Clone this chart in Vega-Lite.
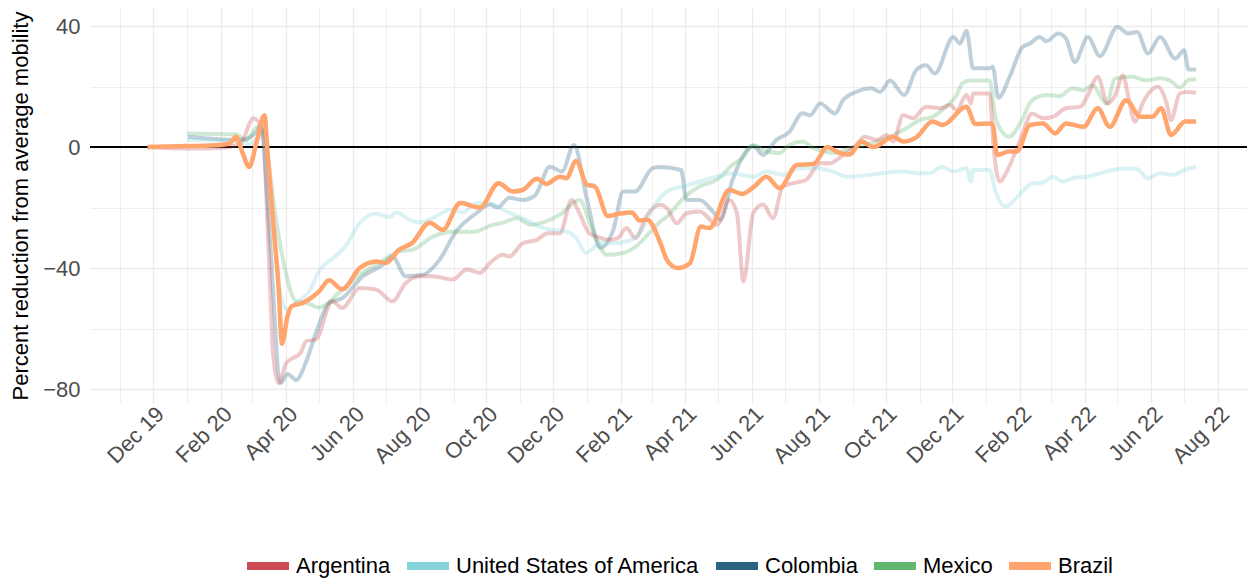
{
"$schema": "https://vega.github.io/schema/vega-lite/v6.json",
"width": 1157, "height": 395,
"autosize": {"type": "none"},
"padding": {"left": 90, "top": 8, "right": 5, "bottom": 177},
"background": "white",
"config": {"view": {"stroke": null}, "font": "Liberation Sans"},
"datasets": {
"mob": [
{"country":"Brazil","date":"2019-11-26","value":0},
{"country":"Brazil","date":"2020-01-01","value":0.3},
{"country":"Brazil","date":"2020-02-01","value":0.7},
{"country":"Brazil","date":"2020-02-09","value":1.2},
{"country":"Brazil","date":"2020-02-15","value":3.4},
{"country":"Brazil","date":"2020-02-21","value":-2},
{"country":"Brazil","date":"2020-02-27","value":-6.6},
{"country":"Brazil","date":"2020-03-05","value":2},
{"country":"Brazil","date":"2020-03-12","value":10.5},
{"country":"Brazil","date":"2020-03-15","value":-3},
{"country":"Brazil","date":"2020-03-20","value":-25},
{"country":"Brazil","date":"2020-03-25","value":-47},
{"country":"Brazil","date":"2020-03-28","value":-65},
{"country":"Brazil","date":"2020-04-02","value":-56},
{"country":"Brazil","date":"2020-04-06","value":-52.6},
{"country":"Brazil","date":"2020-04-16","value":-51.5},
{"country":"Brazil","date":"2020-04-23","value":-50},
{"country":"Brazil","date":"2020-05-01","value":-47.7},
{"country":"Brazil","date":"2020-05-10","value":-44},
{"country":"Brazil","date":"2020-05-22","value":-47},
{"country":"Brazil","date":"2020-06-07","value":-40},
{"country":"Brazil","date":"2020-06-22","value":-37.8},
{"country":"Brazil","date":"2020-07-01","value":-38.3},
{"country":"Brazil","date":"2020-07-13","value":-34},
{"country":"Brazil","date":"2020-07-25","value":-31.7},
{"country":"Brazil","date":"2020-08-10","value":-25},
{"country":"Brazil","date":"2020-08-22","value":-27.4},
{"country":"Brazil","date":"2020-09-07","value":-18.5},
{"country":"Brazil","date":"2020-09-25","value":-20},
{"country":"Brazil","date":"2020-10-12","value":-12},
{"country":"Brazil","date":"2020-10-25","value":-14.7},
{"country":"Brazil","date":"2020-11-03","value":-14.2},
{"country":"Brazil","date":"2020-11-16","value":-10.5},
{"country":"Brazil","date":"2020-11-25","value":-12.2},
{"country":"Brazil","date":"2020-12-07","value":-9.8},
{"country":"Brazil","date":"2020-12-13","value":-10.3},
{"country":"Brazil","date":"2020-12-22","value":-4.6},
{"country":"Brazil","date":"2021-01-01","value":-12.5},
{"country":"Brazil","date":"2021-01-08","value":-13},
{"country":"Brazil","date":"2021-01-20","value":-22.8},
{"country":"Brazil","date":"2021-01-31","value":-22},
{"country":"Brazil","date":"2021-02-11","value":-21.6},
{"country":"Brazil","date":"2021-02-18","value":-24.3},
{"country":"Brazil","date":"2021-02-25","value":-24},
{"country":"Brazil","date":"2021-03-09","value":-31.7},
{"country":"Brazil","date":"2021-03-15","value":-37.3},
{"country":"Brazil","date":"2021-03-25","value":-40},
{"country":"Brazil","date":"2021-04-05","value":-38.4},
{"country":"Brazil","date":"2021-04-15","value":-26.3},
{"country":"Brazil","date":"2021-04-23","value":-26.8},
{"country":"Brazil","date":"2021-05-11","value":-14.2},
{"country":"Brazil","date":"2021-05-23","value":-15.5},
{"country":"Brazil","date":"2021-06-03","value":-13},
{"country":"Brazil","date":"2021-06-14","value":-9.8},
{"country":"Brazil","date":"2021-06-26","value":-13.6},
{"country":"Brazil","date":"2021-07-12","value":-5.9},
{"country":"Brazil","date":"2021-07-27","value":-5.6},
{"country":"Brazil","date":"2021-08-09","value":0},
{"country":"Brazil","date":"2021-08-17","value":-1.5},
{"country":"Brazil","date":"2021-08-29","value":-2.5},
{"country":"Brazil","date":"2021-09-09","value":1.8},
{"country":"Brazil","date":"2021-09-20","value":0},
{"country":"Brazil","date":"2021-10-08","value":3.4},
{"country":"Brazil","date":"2021-10-17","value":1.8},
{"country":"Brazil","date":"2021-10-29","value":3.2},
{"country":"Brazil","date":"2021-11-13","value":8.4},
{"country":"Brazil","date":"2021-11-22","value":7.3},
{"country":"Brazil","date":"2021-12-14","value":13.3},
{"country":"Brazil","date":"2021-12-22","value":7.6},
{"country":"Brazil","date":"2022-01-04","value":7.8},
{"country":"Brazil","date":"2022-01-07","value":7.5},
{"country":"Brazil","date":"2022-01-11","value":-2.6},
{"country":"Brazil","date":"2022-01-22","value":-1.5},
{"country":"Brazil","date":"2022-01-29","value":-1.5},
{"country":"Brazil","date":"2022-02-10","value":7.3},
{"country":"Brazil","date":"2022-02-22","value":7.8},
{"country":"Brazil","date":"2022-03-05","value":4.5},
{"country":"Brazil","date":"2022-03-15","value":7.8},
{"country":"Brazil","date":"2022-03-31","value":6.7},
{"country":"Brazil","date":"2022-04-13","value":12.8},
{"country":"Brazil","date":"2022-04-24","value":6.7},
{"country":"Brazil","date":"2022-05-09","value":15.5},
{"country":"Brazil","date":"2022-05-22","value":10},
{"country":"Brazil","date":"2022-06-02","value":10},
{"country":"Brazil","date":"2022-06-10","value":12.8},
{"country":"Brazil","date":"2022-06-19","value":4},
{"country":"Brazil","date":"2022-07-02","value":8.4},
{"country":"Brazil","date":"2022-07-12","value":8.4},
{"country":"Colombia","date":"2020-01-02","value":3.4},
{"country":"Colombia","date":"2020-02-19","value":2.3},
{"country":"Colombia","date":"2020-03-05","value":5},
{"country":"Colombia","date":"2020-03-09","value":7.8},
{"country":"Colombia","date":"2020-03-16","value":-25},
{"country":"Colombia","date":"2020-03-27","value":-78},
{"country":"Colombia","date":"2020-04-02","value":-75},
{"country":"Colombia","date":"2020-04-10","value":-77},
{"country":"Colombia","date":"2020-04-19","value":-71},
{"country":"Colombia","date":"2020-04-28","value":-61.5},
{"country":"Colombia","date":"2020-05-10","value":-51.5},
{"country":"Colombia","date":"2020-05-22","value":-50},
{"country":"Colombia","date":"2020-06-10","value":-42.7},
{"country":"Colombia","date":"2020-06-28","value":-39},
{"country":"Colombia","date":"2020-07-07","value":-36.2},
{"country":"Colombia","date":"2020-07-19","value":-42.7},
{"country":"Colombia","date":"2020-08-04","value":-42.2},
{"country":"Colombia","date":"2020-08-19","value":-37.3},
{"country":"Colombia","date":"2020-09-03","value":-28},
{"country":"Colombia","date":"2020-09-22","value":-21.8},
{"country":"Colombia","date":"2020-10-04","value":-19},
{"country":"Colombia","date":"2020-10-11","value":-20},
{"country":"Colombia","date":"2020-10-22","value":-16.8},
{"country":"Colombia","date":"2020-11-03","value":-17.5},
{"country":"Colombia","date":"2020-11-14","value":-16.2},
{"country":"Colombia","date":"2020-11-28","value":-6.5},
{"country":"Colombia","date":"2020-12-09","value":-8.1},
{"country":"Colombia","date":"2020-12-20","value":0.7},
{"country":"Colombia","date":"2021-01-01","value":-17.5},
{"country":"Colombia","date":"2021-01-13","value":-33.3},
{"country":"Colombia","date":"2021-01-25","value":-27.4},
{"country":"Colombia","date":"2021-02-03","value":-14.7},
{"country":"Colombia","date":"2021-02-14","value":-14.7},
{"country":"Colombia","date":"2021-03-02","value":-7},
{"country":"Colombia","date":"2021-03-09","value":-6.6},
{"country":"Colombia","date":"2021-03-28","value":-7.6},
{"country":"Colombia","date":"2021-04-02","value":-17.5},
{"country":"Colombia","date":"2021-04-14","value":-17.5},
{"country":"Colombia","date":"2021-04-26","value":-21.3},
{"country":"Colombia","date":"2021-05-03","value":-24},
{"country":"Colombia","date":"2021-05-14","value":-10.9},
{"country":"Colombia","date":"2021-06-02","value":0.3},
{"country":"Colombia","date":"2021-06-11","value":-2.6},
{"country":"Colombia","date":"2021-06-23","value":2.3},
{"country":"Colombia","date":"2021-07-05","value":5},
{"country":"Colombia","date":"2021-07-17","value":11.2},
{"country":"Colombia","date":"2021-07-24","value":10.5},
{"country":"Colombia","date":"2021-08-02","value":14.4},
{"country":"Colombia","date":"2021-08-16","value":11.1},
{"country":"Colombia","date":"2021-08-23","value":15.5},
{"country":"Colombia","date":"2021-09-04","value":18.2},
{"country":"Colombia","date":"2021-09-18","value":19.4},
{"country":"Colombia","date":"2021-09-26","value":18.2},
{"country":"Colombia","date":"2021-10-05","value":22},
{"country":"Colombia","date":"2021-10-18","value":17.2},
{"country":"Colombia","date":"2021-10-29","value":25.4},
{"country":"Colombia","date":"2021-11-07","value":27},
{"country":"Colombia","date":"2021-11-15","value":24.3},
{"country":"Colombia","date":"2021-12-02","value":36.4},
{"country":"Colombia","date":"2021-12-08","value":34.2},
{"country":"Colombia","date":"2021-12-14","value":38.4},
{"country":"Colombia","date":"2021-12-20","value":26},
{"country":"Colombia","date":"2022-01-04","value":26},
{"country":"Colombia","date":"2022-01-07","value":26.5},
{"country":"Colombia","date":"2022-01-12","value":16.3},
{"country":"Colombia","date":"2022-01-23","value":23.7},
{"country":"Colombia","date":"2022-02-03","value":33},
{"country":"Colombia","date":"2022-02-10","value":34.2},
{"country":"Colombia","date":"2022-02-19","value":36.4},
{"country":"Colombia","date":"2022-02-25","value":35},
{"country":"Colombia","date":"2022-03-08","value":37.5},
{"country":"Colombia","date":"2022-03-15","value":35.8},
{"country":"Colombia","date":"2022-03-23","value":28.1},
{"country":"Colombia","date":"2022-04-04","value":36.4},
{"country":"Colombia","date":"2022-04-15","value":30},
{"country":"Colombia","date":"2022-05-01","value":39.7},
{"country":"Colombia","date":"2022-05-11","value":37.5},
{"country":"Colombia","date":"2022-05-19","value":38},
{"country":"Colombia","date":"2022-05-29","value":30.9},
{"country":"Colombia","date":"2022-06-09","value":36.4},
{"country":"Colombia","date":"2022-06-23","value":29.2},
{"country":"Colombia","date":"2022-07-01","value":32},
{"country":"Colombia","date":"2022-07-05","value":25.6},
{"country":"Colombia","date":"2022-07-12","value":25.6},
{"country":"Mexico","date":"2020-01-01","value":4.5},
{"country":"Mexico","date":"2020-02-15","value":4.2},
{"country":"Mexico","date":"2020-02-24","value":2.3},
{"country":"Mexico","date":"2020-03-06","value":6.7},
{"country":"Mexico","date":"2020-03-13","value":2.3},
{"country":"Mexico","date":"2020-03-20","value":-17.5},
{"country":"Mexico","date":"2020-03-29","value":-37.3},
{"country":"Mexico","date":"2020-04-10","value":-51},
{"country":"Mexico","date":"2020-04-19","value":-51.5},
{"country":"Mexico","date":"2020-05-01","value":-53},
{"country":"Mexico","date":"2020-05-19","value":-48.2},
{"country":"Mexico","date":"2020-06-07","value":-42.2},
{"country":"Mexico","date":"2020-06-25","value":-38.3},
{"country":"Mexico","date":"2020-07-13","value":-34.5},
{"country":"Mexico","date":"2020-07-25","value":-34},
{"country":"Mexico","date":"2020-08-13","value":-29.6},
{"country":"Mexico","date":"2020-08-31","value":-28},
{"country":"Mexico","date":"2020-09-19","value":-28},
{"country":"Mexico","date":"2020-10-07","value":-25.7},
{"country":"Mexico","date":"2020-10-16","value":-25},
{"country":"Mexico","date":"2020-10-29","value":-23.5},
{"country":"Mexico","date":"2020-11-10","value":-25.7},
{"country":"Mexico","date":"2020-11-22","value":-24.9},
{"country":"Mexico","date":"2020-12-07","value":-22.4},
{"country":"Mexico","date":"2020-12-25","value":-17.5},
{"country":"Mexico","date":"2021-01-06","value":-27.4},
{"country":"Mexico","date":"2021-01-19","value":-35.6},
{"country":"Mexico","date":"2021-02-03","value":-35},
{"country":"Mexico","date":"2021-02-15","value":-32.8},
{"country":"Mexico","date":"2021-02-27","value":-28.4},
{"country":"Mexico","date":"2021-03-09","value":-24.6},
{"country":"Mexico","date":"2021-03-15","value":-23},
{"country":"Mexico","date":"2021-03-30","value":-16.9},
{"country":"Mexico","date":"2021-04-14","value":-13},
{"country":"Mexico","date":"2021-04-30","value":-10.8},
{"country":"Mexico","date":"2021-05-14","value":-5.9},
{"country":"Mexico","date":"2021-05-23","value":-3.7},
{"country":"Mexico","date":"2021-06-02","value":0.7},
{"country":"Mexico","date":"2021-06-14","value":-1.5},
{"country":"Mexico","date":"2021-06-26","value":-2},
{"country":"Mexico","date":"2021-07-05","value":0.7},
{"country":"Mexico","date":"2021-07-17","value":1.8},
{"country":"Mexico","date":"2021-07-27","value":-0.4},
{"country":"Mexico","date":"2021-08-06","value":-1.5},
{"country":"Mexico","date":"2021-08-17","value":-2},
{"country":"Mexico","date":"2021-08-29","value":-0.4},
{"country":"Mexico","date":"2021-09-17","value":1.2},
{"country":"Mexico","date":"2021-10-02","value":2.9},
{"country":"Mexico","date":"2021-10-20","value":6.2},
{"country":"Mexico","date":"2021-11-01","value":8.9},
{"country":"Mexico","date":"2021-11-13","value":10},
{"country":"Mexico","date":"2021-11-25","value":13.3},
{"country":"Mexico","date":"2021-12-05","value":17.2},
{"country":"Mexico","date":"2021-12-10","value":21},
{"country":"Mexico","date":"2021-12-17","value":22},
{"country":"Mexico","date":"2022-01-04","value":22},
{"country":"Mexico","date":"2022-01-10","value":8.9},
{"country":"Mexico","date":"2022-01-22","value":3.4},
{"country":"Mexico","date":"2022-02-01","value":7.8},
{"country":"Mexico","date":"2022-02-12","value":15.5},
{"country":"Mexico","date":"2022-02-25","value":17.2},
{"country":"Mexico","date":"2022-03-09","value":16.8},
{"country":"Mexico","date":"2022-03-21","value":19.4},
{"country":"Mexico","date":"2022-03-31","value":18.8},
{"country":"Mexico","date":"2022-04-08","value":20.4},
{"country":"Mexico","date":"2022-04-21","value":14.4},
{"country":"Mexico","date":"2022-04-29","value":22.7},
{"country":"Mexico","date":"2022-05-15","value":23.2},
{"country":"Mexico","date":"2022-05-27","value":22},
{"country":"Mexico","date":"2022-06-09","value":22.7},
{"country":"Mexico","date":"2022-06-18","value":22},
{"country":"Mexico","date":"2022-06-27","value":19.7},
{"country":"Mexico","date":"2022-07-06","value":22.3},
{"country":"Mexico","date":"2022-07-12","value":22.3},
{"country":"Argentina","date":"2019-11-26","value":0},
{"country":"Argentina","date":"2020-01-01","value":-0.5},
{"country":"Argentina","date":"2020-02-01","value":-0.3},
{"country":"Argentina","date":"2020-02-19","value":1.2},
{"country":"Argentina","date":"2020-03-02","value":9.5},
{"country":"Argentina","date":"2020-03-10","value":5.6},
{"country":"Argentina","date":"2020-03-16","value":-36},
{"country":"Argentina","date":"2020-03-20","value":-69},
{"country":"Argentina","date":"2020-03-25","value":-78},
{"country":"Argentina","date":"2020-04-01","value":-71.3},
{"country":"Argentina","date":"2020-04-14","value":-68},
{"country":"Argentina","date":"2020-04-19","value":-64.2},
{"country":"Argentina","date":"2020-04-28","value":-63.6},
{"country":"Argentina","date":"2020-05-13","value":-51},
{"country":"Argentina","date":"2020-05-22","value":-53.2},
{"country":"Argentina","date":"2020-06-07","value":-46.6},
{"country":"Argentina","date":"2020-06-22","value":-47.1},
{"country":"Argentina","date":"2020-07-07","value":-51},
{"country":"Argentina","date":"2020-07-19","value":-45},
{"country":"Argentina","date":"2020-08-01","value":-42.7},
{"country":"Argentina","date":"2020-08-13","value":-42.7},
{"country":"Argentina","date":"2020-08-31","value":-43.8},
{"country":"Argentina","date":"2020-09-13","value":-40.5},
{"country":"Argentina","date":"2020-09-25","value":-41.6},
{"country":"Argentina","date":"2020-10-04","value":-38.4},
{"country":"Argentina","date":"2020-10-16","value":-35.6},
{"country":"Argentina","date":"2020-10-22","value":-36.2},
{"country":"Argentina","date":"2020-11-03","value":-31.8},
{"country":"Argentina","date":"2020-11-16","value":-30.7},
{"country":"Argentina","date":"2020-11-26","value":-28.5},
{"country":"Argentina","date":"2020-12-07","value":-28.5},
{"country":"Argentina","date":"2020-12-18","value":-17.5},
{"country":"Argentina","date":"2020-12-25","value":-21.9},
{"country":"Argentina","date":"2021-01-03","value":-28.5},
{"country":"Argentina","date":"2021-01-10","value":-29.6},
{"country":"Argentina","date":"2021-01-21","value":-30.7},
{"country":"Argentina","date":"2021-01-29","value":-30.1},
{"country":"Argentina","date":"2021-02-06","value":-26.8},
{"country":"Argentina","date":"2021-02-14","value":-30.1},
{"country":"Argentina","date":"2021-02-25","value":-22.4},
{"country":"Argentina","date":"2021-03-09","value":-19.1},
{"country":"Argentina","date":"2021-03-15","value":-20.2},
{"country":"Argentina","date":"2021-03-24","value":-25.2},
{"country":"Argentina","date":"2021-04-02","value":-21.9},
{"country":"Argentina","date":"2021-04-14","value":-21.3},
{"country":"Argentina","date":"2021-04-30","value":-25.7},
{"country":"Argentina","date":"2021-05-11","value":-17.5},
{"country":"Argentina","date":"2021-05-18","value":-21.8},
{"country":"Argentina","date":"2021-05-24","value":-44.4},
{"country":"Argentina","date":"2021-06-02","value":-21.8},
{"country":"Argentina","date":"2021-06-11","value":-19},
{"country":"Argentina","date":"2021-06-20","value":-23.5},
{"country":"Argentina","date":"2021-06-29","value":-13},
{"country":"Argentina","date":"2021-07-08","value":-12},
{"country":"Argentina","date":"2021-07-20","value":-10.9},
{"country":"Argentina","date":"2021-08-02","value":-5.4},
{"country":"Argentina","date":"2021-08-11","value":-5.4},
{"country":"Argentina","date":"2021-08-21","value":-3.2},
{"country":"Argentina","date":"2021-09-03","value":0.2},
{"country":"Argentina","date":"2021-09-12","value":3.4},
{"country":"Argentina","date":"2021-09-23","value":2.3},
{"country":"Argentina","date":"2021-10-02","value":4},
{"country":"Argentina","date":"2021-10-08","value":1.8},
{"country":"Argentina","date":"2021-10-17","value":10.5},
{"country":"Argentina","date":"2021-10-26","value":9.5},
{"country":"Argentina","date":"2021-11-07","value":13.3},
{"country":"Argentina","date":"2021-11-20","value":12.8},
{"country":"Argentina","date":"2021-11-29","value":13.9},
{"country":"Argentina","date":"2021-12-05","value":12.2},
{"country":"Argentina","date":"2021-12-14","value":17.2},
{"country":"Argentina","date":"2021-12-18","value":14.4},
{"country":"Argentina","date":"2021-12-20","value":17.7},
{"country":"Argentina","date":"2022-01-04","value":17.7},
{"country":"Argentina","date":"2022-01-08","value":-0.9},
{"country":"Argentina","date":"2022-01-13","value":-11.4},
{"country":"Argentina","date":"2022-01-22","value":-6.5},
{"country":"Argentina","date":"2022-02-01","value":2.3},
{"country":"Argentina","date":"2022-02-12","value":11.1},
{"country":"Argentina","date":"2022-02-22","value":9.5},
{"country":"Argentina","date":"2022-03-03","value":10},
{"country":"Argentina","date":"2022-03-15","value":12.8},
{"country":"Argentina","date":"2022-03-28","value":13.3},
{"country":"Argentina","date":"2022-04-04","value":17.2},
{"country":"Argentina","date":"2022-04-13","value":23.2},
{"country":"Argentina","date":"2022-04-22","value":14.4},
{"country":"Argentina","date":"2022-04-29","value":17.2},
{"country":"Argentina","date":"2022-05-06","value":23.7},
{"country":"Argentina","date":"2022-05-11","value":16.6},
{"country":"Argentina","date":"2022-05-17","value":8.4},
{"country":"Argentina","date":"2022-05-24","value":14.4},
{"country":"Argentina","date":"2022-06-07","value":19.9},
{"country":"Argentina","date":"2022-06-15","value":14.4},
{"country":"Argentina","date":"2022-06-19","value":8.9},
{"country":"Argentina","date":"2022-06-27","value":17.7},
{"country":"Argentina","date":"2022-07-03","value":18.2},
{"country":"Argentina","date":"2022-07-12","value":17.9},
{"country":"United States of America","date":"2020-01-01","value":2.3},
{"country":"United States of America","date":"2020-02-15","value":2},
{"country":"United States of America","date":"2020-02-27","value":1},
{"country":"United States of America","date":"2020-03-09","value":3.4},
{"country":"United States of America","date":"2020-03-19","value":-25},
{"country":"United States of America","date":"2020-03-27","value":-49.4},
{"country":"United States of America","date":"2020-04-01","value":-53.7},
{"country":"United States of America","date":"2020-04-10","value":-51.5},
{"country":"United States of America","date":"2020-04-23","value":-47},
{"country":"United States of America","date":"2020-05-01","value":-41},
{"country":"United States of America","date":"2020-05-16","value":-36},
{"country":"United States of America","date":"2020-05-25","value":-32.8},
{"country":"United States of America","date":"2020-06-07","value":-25.2},
{"country":"United States of America","date":"2020-06-22","value":-22},
{"country":"United States of America","date":"2020-07-04","value":-23.2},
{"country":"United States of America","date":"2020-07-11","value":-21.6},
{"country":"United States of America","date":"2020-07-22","value":-24},
{"country":"United States of America","date":"2020-08-01","value":-24.9},
{"country":"United States of America","date":"2020-08-13","value":-23.5},
{"country":"United States of America","date":"2020-08-28","value":-20.8},
{"country":"United States of America","date":"2020-09-09","value":-21.6},
{"country":"United States of America","date":"2020-09-22","value":-18.6},
{"country":"United States of America","date":"2020-10-04","value":-18.6},
{"country":"United States of America","date":"2020-10-19","value":-21.3},
{"country":"United States of America","date":"2020-11-03","value":-23.5},
{"country":"United States of America","date":"2020-11-18","value":-26.3},
{"country":"United States of America","date":"2020-11-30","value":-27.4},
{"country":"United States of America","date":"2020-12-13","value":-27.9},
{"country":"United States of America","date":"2020-12-22","value":-30.1},
{"country":"United States of America","date":"2020-12-31","value":-35},
{"country":"United States of America","date":"2021-01-13","value":-31.8},
{"country":"United States of America","date":"2021-01-25","value":-31.8},
{"country":"United States of America","date":"2021-02-06","value":-31.2},
{"country":"United States of America","date":"2021-02-18","value":-28.5},
{"country":"United States of America","date":"2021-03-02","value":-20.2},
{"country":"United States of America","date":"2021-03-15","value":-14.7},
{"country":"United States of America","date":"2021-03-30","value":-13},
{"country":"United States of America","date":"2021-04-14","value":-11.4},
{"country":"United States of America","date":"2021-04-30","value":-9.8},
{"country":"United States of America","date":"2021-05-14","value":-8.7},
{"country":"United States of America","date":"2021-06-02","value":-9.8},
{"country":"United States of America","date":"2021-06-14","value":-8.1},
{"country":"United States of America","date":"2021-06-29","value":-9.2},
{"country":"United States of America","date":"2021-07-14","value":-7},
{"country":"United States of America","date":"2021-07-30","value":-7},
{"country":"United States of America","date":"2021-08-14","value":-8.1},
{"country":"United States of America","date":"2021-08-26","value":-9.8},
{"country":"United States of America","date":"2021-09-17","value":-9.2},
{"country":"United States of America","date":"2021-10-02","value":-8.4},
{"country":"United States of America","date":"2021-10-17","value":-8.1},
{"country":"United States of America","date":"2021-11-01","value":-8.7},
{"country":"United States of America","date":"2021-11-10","value":-8.7},
{"country":"United States of America","date":"2021-11-22","value":-6.5},
{"country":"United States of America","date":"2021-12-02","value":-8.1},
{"country":"United States of America","date":"2021-12-14","value":-7},
{"country":"United States of America","date":"2021-12-18","value":-11.4},
{"country":"United States of America","date":"2021-12-20","value":-7.6},
{"country":"United States of America","date":"2022-01-04","value":-7.6},
{"country":"United States of America","date":"2022-01-10","value":-15.3},
{"country":"United States of America","date":"2022-01-19","value":-19.7},
{"country":"United States of America","date":"2022-01-22","value":-19.1},
{"country":"United States of America","date":"2022-02-03","value":-14.7},
{"country":"United States of America","date":"2022-02-12","value":-12},
{"country":"United States of America","date":"2022-02-22","value":-11.7},
{"country":"United States of America","date":"2022-03-03","value":-9.8},
{"country":"United States of America","date":"2022-03-12","value":-11.4},
{"country":"United States of America","date":"2022-03-21","value":-10.3},
{"country":"United States of America","date":"2022-04-03","value":-9.8},
{"country":"United States of America","date":"2022-04-15","value":-8.7},
{"country":"United States of America","date":"2022-04-27","value":-7.6},
{"country":"United States of America","date":"2022-05-09","value":-7},
{"country":"United States of America","date":"2022-05-19","value":-7.3},
{"country":"United States of America","date":"2022-05-29","value":-10.3},
{"country":"United States of America","date":"2022-06-09","value":-8.7},
{"country":"United States of America","date":"2022-06-21","value":-9.2},
{"country":"United States of America","date":"2022-07-01","value":-7.6},
{"country":"United States of America","date":"2022-07-12","value":-6.5}
],
"zero": [{"level": 0}]
},
"layer": [
{
"data": {"name": "zero"},
"mark": {"type": "rule", "color": "black", "strokeWidth": 2},
"encoding": {"y": {"field": "level", "type": "quantitative"}}
},
{
"data": {"name": "mob"},
"transform": [{"filter": "datum.country !== 'Brazil'"}],
"mark": {"type": "line", "strokeWidth": 4, "opacity": 0.3, "interpolate": "monotone"},
"encoding": {
"x": {"field": "date", "type": "temporal",
"scale": {"type": "utc", "domain": [{"year": 2019, "month": 10, "date": 4, "hours": 10, "utc": true}, {"year": 2022, "month": 8, "date": 27, "hours": 12, "utc": true}]},
"axis": {"title": null, "tickCount": {"interval": "month", "step": 1},
"labelExpr": "utcmonth(datum.value) % 2 == 1 ? utcFormat(datum.value, '%b %y') : ''",
"labelAngle": -45, "labelAlign": "right", "labelBaseline": "top",
"labelFontSize": 22, "labelColor": "#4D4D4D", "labelPadding": 0,
"labelOverlap": false, "labelFlush": false, "labelBound": false,
"ticks": false, "domain": false, "grid": true, "gridColor": "#EBEBEB",
"gridWidth": {"condition": {"test": "utcmonth(datum.value) % 2 == 1", "value": 1.3}, "value": 0.8}}},
"y": {"field": "value", "type": "quantitative",
"scale": {"domain": [-84.6, 45.95], "nice": false, "zero": false},
"axis": {"title": "Percent reduction from average mobility", "titleFontSize": 22, "titleFontWeight": "normal", "titleColor": "black", "titlePadding": 10,
"values": [-80, -60, -40, -20, 0, 20, 40],
"labelExpr": "datum.value % 40 == 0 ? datum.label : ''",
"labelFontSize": 22, "labelColor": "#4D4D4D", "labelPadding": 10,
"ticks": false, "domain": false, "grid": true, "gridColor": "#EBEBEB",
"gridWidth": {"condition": {"test": "datum.value % 40 == 0", "value": 1.3}, "value": 0.8}}},
"color": {"field": "country", "type": "nominal",
"scale": {"domain": ["Argentina", "United States of America", "Colombia", "Mexico", "Brazil"], "range": ["#C94A50", "#84D3DC", "#2C6383", "#62B670", "#FFA56D"]},
"legend": {"orient": "none", "legendX": 153, "legendY": 533, "direction": "horizontal", "title": null,
"symbolType": "stroke", "symbolStrokeWidth": 8, "symbolSize": 1764, "symbolOpacity": 1,
"labelFontSize": 22, "labelColor": "black", "labelOffset": 3, "columnPadding": 0, "labelLimit": 400}},
"detail": {"field": "country"}
}
},
{
"data": {"name": "mob"},
"transform": [{"filter": "datum.country === 'Brazil'"}],
"mark": {"type": "line", "strokeWidth": 4.5, "opacity": 1, "interpolate": "monotone"},
"encoding": {
"x": {"field": "date", "type": "temporal"},
"y": {"field": "value", "type": "quantitative"},
"color": {"field": "country", "type": "nominal"}
}
}
]
}
